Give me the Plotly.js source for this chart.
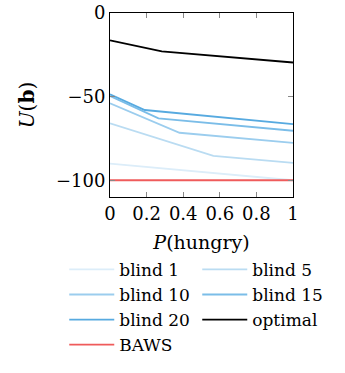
<!DOCTYPE html>
<html>
<head>
<meta charset="utf-8">
<script src="https://cdn.plot.ly/plotly-3.0.1.min.js"></script>
<style>html,body{margin:0;padding:0;background:#fff;}#chart{width:345px;height:373px;}</style>
</head>
<body>
<div id="chart"></div>
<script>
const seriesNames = ["blind 1", "blind 5", "blind 10", "blind 15", "blind 20", "optimal", "BAWS"];
const blind1X = [0, 1];
const blind1Y = [-90, -100];
const blind5X = [0, 0.565, 1];
const blind5Y = [-66, -85.4, -89.6];
const blind10X = [0, 0.38, 1];
const blind10Y = [-54, -71.6, -77.6];
const blind15X = [0, 0.265, 1];
const blind15Y = [-49.6, -63, -70.4];
const blind20X = [0, 0.19, 1];
const blind20Y = [-48.6, -58, -66.4];
const optimalX = [0, 0.283, 1];
const optimalY = [-16.4, -23, -29.6];
const bawsX = [0, 1];
const bawsY = [-100, -100];
const xTickVals = [0, 0.2, 0.4, 0.6, 0.8, 1];
const xTickText = ["0", "0.2", "0.4", "0.6", "0.8", "1"];
const yTickVals = [0, -50, -100];
const yTickText = ["0", "\u221250", "\u2212100"];

const colors = ["#dcedf9", "#badcf2", "#9bcdee", "#7bbde8", "#57aae0", "#000000", "#ef5b5b"];
const xs = [blind1X, blind5X, blind10X, blind15X, blind20X, optimalX, bawsX];
const ys = [blind1Y, blind5Y, blind10Y, blind15Y, blind20Y, optimalY, bawsY];

const traces = seriesNames.map((n, i) => ({
  x: xs[i], y: ys[i], name: n, type: "scatter", mode: "lines",
  line: {color: colors[i], width: 1.8}
}));

const font = {family: "DejaVu Serif", size: 18, color: "#000"};
const layout = {
  width: 345, height: 373,
  margin: {l: 110, r: 52, t: 13, b: 176, autoexpand: false},
  paper_bgcolor: "#fff", plot_bgcolor: "#fff",
  font: font,
  showlegend: true,
  xaxis: {
    range: [0, 1], tickvals: xTickVals, ticktext: xTickText,
    ticks: "inside", ticklen: 5, tickcolor: "#888", mirror: "ticks",
    showline: true, linecolor: "#000", linewidth: 1, showgrid: false, zeroline: false,
    title: {text: "<i>P</i>(hungry)", font: {family: "DejaVu Serif", size: 19}, standoff: 13},
    tickfont: font, automargin: false
  },
  yaxis: {
    range: [-110, 0], tickvals: yTickVals, ticktext: yTickText,
    ticks: "inside", ticklen: 5, tickcolor: "#888", mirror: "ticks",
    showline: true, linecolor: "#000", linewidth: 1, showgrid: false, zeroline: false,
    title: {text: "<i>U</i>(<b>b</b>)", font: {family: "DejaVu Serif", size: 20}, standoff: 15},
    tickfont: font, automargin: false
  },
  legend: {
    orientation: "h", x: -0.25, xanchor: "left", y: -0.298, yanchor: "top",
    entrywidth: 73, entrywidthmode: "pixels", itemwidth: 45,
    font: {family: "DejaVu Serif", size: 17}, bgcolor: "rgba(0,0,0,0)"
  }
};
Plotly.newPlot("chart", traces, layout, {displayModeBar: false, staticPlot: true});
</script>
</body>
</html>
